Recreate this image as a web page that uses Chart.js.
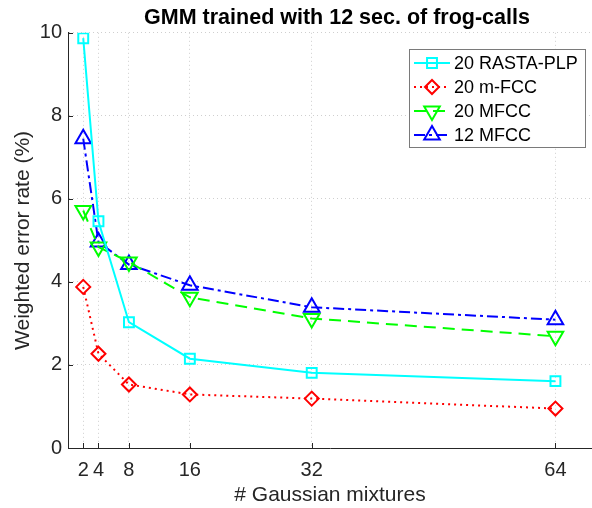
<!DOCTYPE html>
<html lang="en">
<head>
    <meta charset="UTF-8">
    <title>GMM trained with 12 sec. of frog-calls</title>
    <script src="https://cdn.jsdelivr.net/npm/chart.js"></script>
    <style>
        body { margin: 0; background: #fff; }
        .chart-container { width: 592px; height: 508px; position: relative; }
    </style>
</head>
<body>
    <div class="chart-container">
        <canvas id="gmmChart" width="592" height="508"></canvas>
    </div>

    <script>
        // Data
        const mixtures = [2, 4, 8, 16, 32, 64];
        const xTicks = [2, 4, 8, 16, 32, 64];
        const yTicks = [0, 2, 4, 6, 8, 10];
        const rastaPlp20 = [9.87, 5.46, 3.03, 2.15, 1.81, 1.61];
        const mFcc20 = [3.88, 2.27, 1.53, 1.29, 1.19, 0.95];
        const mfcc20 = [5.72, 4.84, 4.48, 3.63, 3.12, 2.69];
        const mfcc12 = [7.45, 4.96, 4.42, 3.92, 3.39, 3.09];
        const seriesNames = ['20 RASTA-PLP', '20 m-FCC', '20 MFCC', '12 MFCC'];

        const axisColor = '#262626';
        const fontFamily = '"Liberation Sans", Arial, sans-serif';

        function toPoints(values) {
            return values.map((v, i) => ({ x: mixtures[i], y: v }));
        }

        function makeSet(label, values, color, dash, style, radius, rotation) {
            return {
                label: label,
                data: toPoints(values),
                borderColor: color,
                backgroundColor: 'rgba(0,0,0,0)',
                borderWidth: 2,
                borderDash: dash,
                pointStyle: style,
                pointRadius: radius,
                pointRotation: rotation,
                pointBorderWidth: 2,
                pointBorderColor: color,
                pointBackgroundColor: 'rgba(0,0,0,0)',
                tension: 0,
                fill: false
            };
        }

        // axes in the original run past the right edge of the image,
        // so the title is centred a bit right of the visible plot area
        const shiftTitle = {
            id: 'shiftTitle',
            afterLayout(chart) {
                if (chart.titleBlock) {
                    chart.titleBlock.left += 7;
                    chart.titleBlock.right += 7;
                }
            }
        };

        // legend drawn inside plot area, MATLAB-style
        const matlabLegend = {
            id: 'matlabLegend',
            afterDraw(chart) {
                const ctx = chart.ctx;
                const bx = 409, by = 49, bw = 176, bh = 98;
                ctx.save();
                ctx.fillStyle = '#fff';
                ctx.fillRect(bx, by, bw, bh);
                ctx.strokeStyle = '#7a7a7a';
                ctx.lineWidth = 1;
                ctx.strokeRect(bx + 0.5, by + 0.5, bw, bh);
                chart.data.datasets.forEach((ds, i) => {
                    const y = by + 14 + i * 24;
                    ctx.strokeStyle = ds.borderColor;
                    ctx.lineWidth = ds.borderWidth;
                    ctx.setLineDash(ds.borderDash);
                    ctx.beginPath();
                    ctx.moveTo(bx + 5, y);
                    ctx.lineTo(bx + 41, y);
                    ctx.stroke();
                    ctx.setLineDash([]);
                    ctx.fillStyle = 'rgba(0,0,0,0)';
                    Chart.helpers.drawPoint(ctx, {
                        pointStyle: ds.pointStyle,
                        rotation: ds.pointRotation,
                        radius: ds.pointRadius,
                        borderWidth: 2
                    }, bx + 23, y);
                    ctx.fillStyle = '#000';
                    ctx.font = '18px ' + fontFamily;
                    ctx.textBaseline = 'middle';
                    ctx.fillText(ds.label, bx + 45, y + 1);
                });

                // inward tick marks
                const xs = chart.scales.x, ys = chart.scales.y;
                ctx.strokeStyle = axisColor;
                ctx.lineWidth = 1;
                ctx.beginPath();
                xTicks.forEach(t => {
                    const px = Math.round(xs.getPixelForValue(t)) + 0.5;
                    ctx.moveTo(px, ys.bottom);
                    ctx.lineTo(px, ys.bottom - 5);
                });
                yTicks.forEach(t => {
                    const py = Math.round(ys.getPixelForValue(t)) + 0.5;
                    ctx.moveTo(xs.left, py);
                    ctx.lineTo(xs.left + 5, py);
                });
                ctx.stroke();
                ctx.restore();
            }
        };

        const ctx = document.getElementById('gmmChart').getContext('2d');
        new Chart(ctx, {
            type: 'line',
            data: {
                datasets: [
                    makeSet(seriesNames[0], rastaPlp20, '#00ffff', [], 'rect', 7, 0),
                    makeSet(seriesNames[1], mFcc20, '#ff0000', [2, 4], 'rectRot', 7, 0),
                    makeSet(seriesNames[2], mfcc20, '#00ff00', [12, 7], 'triangle', 9, 180),
                    makeSet(seriesNames[3], mfcc12, '#0000ff', [11, 4, 3, 4], 'triangle', 9, 0)
                ]
            },
            options: {
                responsive: false,
                animation: false,
                layout: { autoPadding: false, padding: 0 },
                plugins: {
                    legend: { display: false },
                    tooltip: { enabled: false },
                    title: {
                        display: true,
                        fullSize: false,
                        text: 'GMM trained with 12 sec. of frog-calls',
                        color: '#000',
                        font: { family: fontFamily, size: 21.5, weight: 'bold' },
                        padding: { top: 5, bottom: 2 }
                    }
                },
                scales: {
                    x: {
                        type: 'linear',
                        min: 0,
                        max: 68.8,
                        afterBuildTicks: s => { s.ticks = xTicks.map(v => ({ value: v })); },
                        afterFit: s => { s.height = 60; s.paddingLeft = 0; s.paddingRight = 0; },
                        border: { color: axisColor, width: 1, dash: [1, 3] },
                        grid: { color: '#cfcfcf', drawTicks: false },
                        ticks: { color: axisColor, padding: 10, font: { family: fontFamily, size: 20 } },
                        title: {
                            display: true,
                            text: '# Gaussian mixtures',
                            color: axisColor,
                            font: { family: fontFamily, size: 21 },
                            padding: { top: 0, bottom: 0 }
                        }
                    },
                    y: {
                        min: 0,
                        max: 10,
                        afterBuildTicks: s => { s.ticks = yTicks.map(v => ({ value: v })); },
                        afterFit: s => { s.width = 68; },
                        border: { color: axisColor, width: 1, dash: [1, 3] },
                        grid: { color: '#cfcfcf', drawTicks: false },
                        ticks: { color: axisColor, padding: 6, font: { family: fontFamily, size: 20 } },
                        title: {
                            display: true,
                            text: 'Weighted error rate (%)',
                            color: axisColor,
                            font: { family: fontFamily, size: 21 },
                            padding: { top: 11, bottom: 0 }
                        }
                    }
                }
            },
            plugins: [shiftTitle, matlabLegend]
        });
    </script>
</body>
</html>
